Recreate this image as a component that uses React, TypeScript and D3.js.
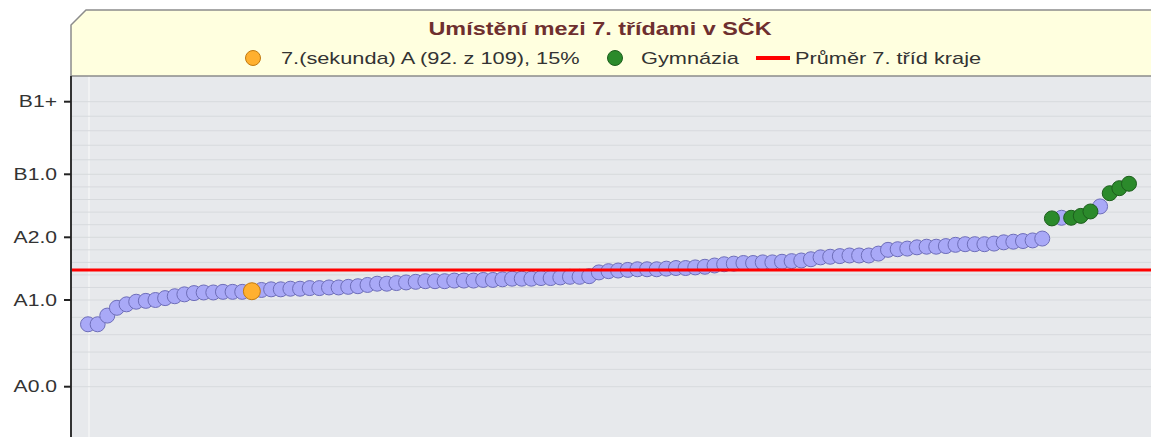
import React from "react";
import * as d3 from "d3";

// level labels on the left axis and their numeric level
const tickLabels = ["A0.0", "A1.0", "A2.0", "B1.0", "B1+"];
const tickLevels = [0, 1, 2, 3, 4];

// results of all 7th-grade classes in the region, sorted ascending (109 classes)
const scores = [
  0.72, 0.72, 0.82, 0.91, 0.95, 0.98, 0.99, 1.0, 1.03, 1.06, 1.09, 1.11, 1.12, 1.12, 1.13, 1.13, 1.13, 1.14,
  1.16, 1.17, 1.17, 1.18, 1.18, 1.19, 1.19, 1.2, 1.2, 1.21, 1.22, 1.24, 1.26, 1.26, 1.27, 1.28, 1.29, 1.3,
  1.3, 1.3, 1.31, 1.31, 1.31, 1.32, 1.32, 1.33, 1.34, 1.34, 1.34, 1.35, 1.35, 1.36, 1.37, 1.37, 1.38,
  1.44, 1.46, 1.47, 1.48, 1.49, 1.49, 1.49, 1.5, 1.51, 1.51, 1.52, 1.53, 1.55, 1.57, 1.58, 1.59, 1.59,
  1.6, 1.6, 1.61, 1.62, 1.63, 1.65, 1.68, 1.69, 1.7, 1.71, 1.71, 1.71, 1.74, 1.8, 1.81, 1.82, 1.84, 1.85,
  1.85, 1.86, 1.88, 1.89, 1.89, 1.89, 1.9, 1.92, 1.93, 1.94, 1.95, 1.98,
  2.3, 2.31, 2.31, 2.34, 2.41, 2.49, 2.7, 2.78, 2.85,
];
// which of them are gymnasia
const gymnasiumIdx = [100, 102, 103, 104, 106, 107, 108];
// own class
const ownIdx = 17;
const ownLabel = "7.(sekunda) A (92. z 109), 15%";
const regionMean = 1.48;

const title = "Umístění mezi 7. třídami v SČK";
const legendGym = "Gymnázia";
const legendMean = "Průměr 7. tříd kraje";

const width = 1151;
const height = 437;
const left = 71;
const headerTop = 10;
const headerBottom = 76;
// the original text is a wide Arial-like face
const font = "'Liberation Sans', Arial, sans-serif";
const stretch = 1.28;

const App = () => {
  const x = d3.scaleLinear().domain([0, scores.length - 1]).range([88, 1129]);
  // the level axis is not uniform: each level band has its own height
  const y = d3.scaleLinear().domain(tickLevels).range([386.7, 300, 237.3, 174.3, 101.7]);

  const minor = d3.range(0, 4.0001, 0.2);
  const gymSet = new Set(gymnasiumIdx);
  const purple = scores.map((v, i) => ({ v, i })).filter((d) => !gymSet.has(d.i) && d.i !== ownIdx);
  const green = gymnasiumIdx.map((i) => ({ v: scores[i], i }));

  const headerPath = d3.path();
  headerPath.moveTo(left, headerBottom);
  headerPath.lineTo(left, headerTop + 15);
  headerPath.lineTo(left + 15, headerTop);
  headerPath.lineTo(width + 5, headerTop);
  headerPath.lineTo(width + 5, headerBottom);
  headerPath.closePath();

  const legendText = (tx: number, label: string) => (
    <text
      transform={`translate(${tx},64) scale(${stretch},1)`}
      fontFamily={font}
      fontSize={17}
      fill="#333"
    >
      {label}
    </text>
  );

  return (
    <svg
      width={width}
      height={height}
      style={{ position: "absolute", left: 0, top: 0, background: "#fff" }}
    >
      {/* plot background */}
      <rect x={left} y={headerBottom} width={width - left} height={height - headerBottom} fill="#e7e9ec" />

      {/* first category vertical line */}
      <line x1={x(0) + 1} x2={x(0) + 1} y1={headerBottom} y2={height} stroke="#f4f5f6" strokeWidth={1.5} />

      {/* horizontal grid */}
      {minor.map((m, i) => (
        <line key={i} x1={left} x2={width} y1={y(m)} y2={y(m)} stroke="#d7dadd" strokeWidth={1} />
      ))}

      {/* header */}
      <path d={headerPath.toString()} fill="#ffffdf" stroke="#8c8c8c" strokeWidth={1.5} />
      <text
        transform={`translate(600,35) scale(1.3,1)`}
        textAnchor="middle"
        fontFamily={font}
        fontWeight="bold"
        fontSize={18}
        fill="#6e2f2f"
      >
        {title}
      </text>

      {/* legend */}
      <circle cx={253} cy={58} r={7.5} fill="#ffb030" stroke="#c27a10" strokeWidth={1} />
      {legendText(281, ownLabel)}
      <circle cx={615} cy={58} r={7.5} fill="#2b8a2b" stroke="#1d5e1d" strokeWidth={1} />
      {legendText(641, legendGym)}
      <line x1={756} x2={790} y1={58} y2={58} stroke="#ff0000" strokeWidth={4} />
      {legendText(795, legendMean)}

      {/* points */}
      {purple.map((d) => (
        <circle key={"p" + d.i} cx={x(d.i)} cy={y(d.v)} r={7.5} fill="#a9a9f7" stroke="#6e6eb9" strokeWidth={1} />
      ))}
      {green.map((d) => (
        <circle key={"g" + d.i} cx={x(d.i)} cy={y(d.v)} r={7.5} fill="#2b8a2b" stroke="#1d5e1d" strokeWidth={1} />
      ))}
      <circle cx={x(ownIdx)} cy={y(scores[ownIdx])} r={8.5} fill="#ffb030" stroke="#c27a10" strokeWidth={1} />

      {/* regional mean */}
      <line x1={left} x2={width} y1={y(regionMean)} y2={y(regionMean)} stroke="#ff0000" strokeWidth={3} />

      {/* left axis */}
      <line x1={left} x2={left} y1={headerBottom} y2={height} stroke="#333" strokeWidth={2} />
      {tickLevels.map((t, i) => (
        <g key={t} transform={`translate(0,${y(t)})`}>
          <line x1={left - 7} x2={left} stroke="#222" strokeWidth={2} />
          <text
            transform={`translate(57,0) scale(1.32,1)`}
            dy="0.36em"
            textAnchor="end"
            fontFamily={font}
            fontSize={16}
            fill="#333"
          >
            {tickLabels[i]}
          </text>
        </g>
      ))}
    </svg>
  );
};

export default App;
